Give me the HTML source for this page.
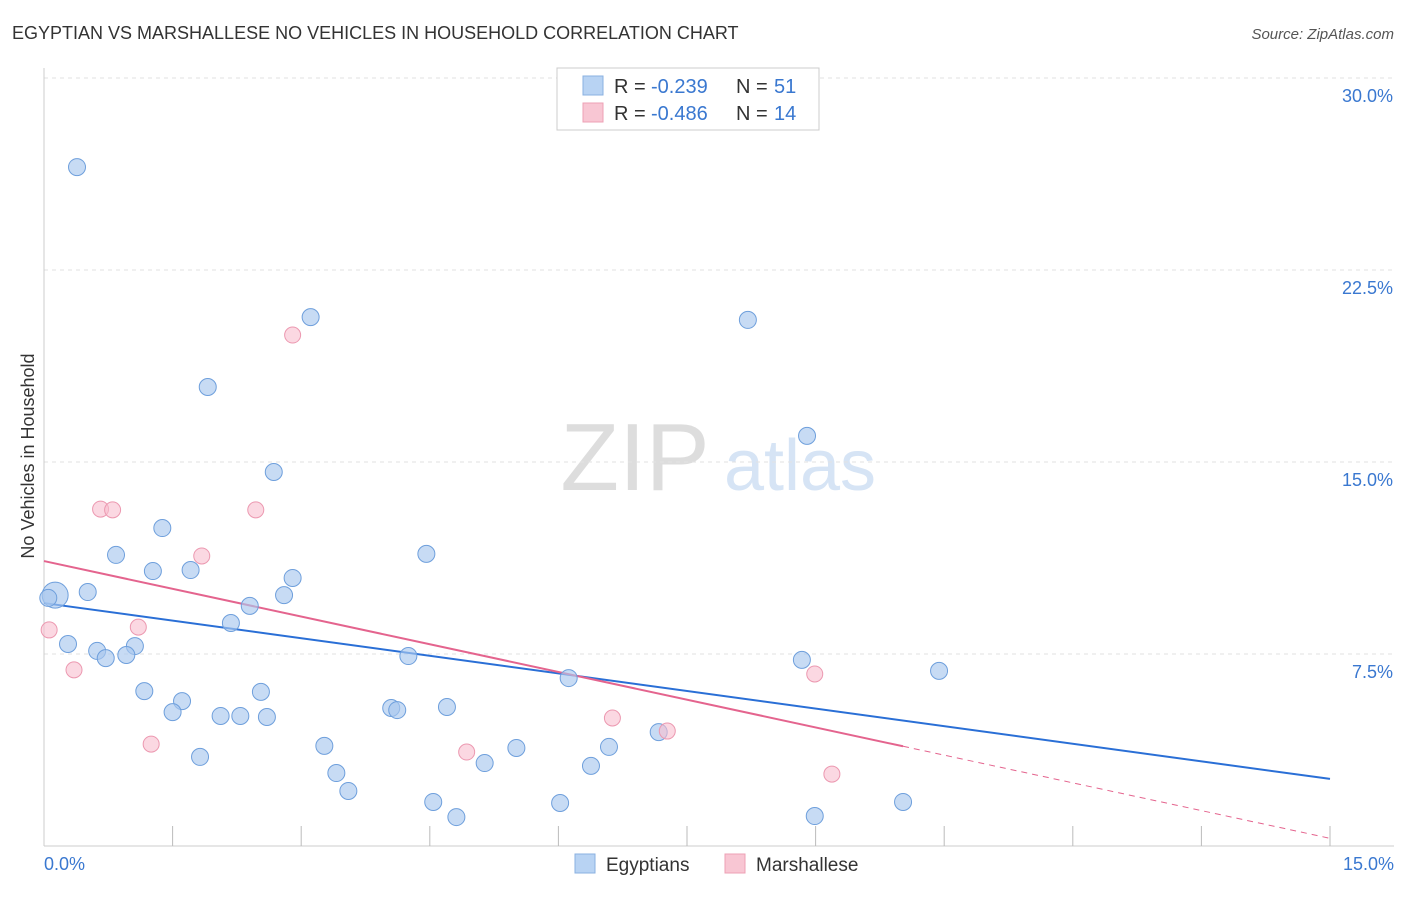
<!DOCTYPE html>
<html><head><meta charset="utf-8"><style>
body{margin:0;background:#fff;font-family:"Liberation Sans",sans-serif;}
svg text{font-family:"Liberation Sans",sans-serif;}
</style></head><body>
<svg width="1406" height="892" id="chart">
<text x="12" y="39" font-size="18" fill="#333">EGYPTIAN VS MARSHALLESE NO VEHICLES IN HOUSEHOLD CORRELATION CHART</text>
<text x="1394" y="39" font-size="15" fill="#555" font-style="italic" text-anchor="end">Source: ZipAtlas.com</text>
<text x="34" y="456" font-size="18" fill="#333" text-anchor="middle" transform="rotate(-90 34 456)">No Vehicles in Household</text>
<g><text x="635" y="490" font-size="96" fill="#ddd" font-family="Liberation Serif" text-anchor="middle">ZIP</text><text x="800" y="490" font-size="72" fill="#d6e4f5" text-anchor="middle">atlas</text></g>
<g id="grid"></g><g id="axes"></g><g id="lines"></g><g id="pts"></g>
<g>
<rect x="557" y="68" width="262" height="62" fill="#fff" stroke="#ccc"/>
<rect x="583" y="76" width="20" height="19" fill="#b8d3f3" stroke="#8ab0e0"/>
<text x="614" y="93" font-size="20" fill="#333">R =</text>
<text x="651" y="93" font-size="20" fill="#3a78d0">-0.239</text>
<text x="736" y="93" font-size="20" fill="#333">N =</text>
<text x="774" y="93" font-size="20" fill="#3a78d0">51</text>
<rect x="583" y="103" width="20" height="19" fill="#f8c6d3" stroke="#eea0b4"/>
<text x="614" y="120" font-size="20" fill="#333">R =</text>
<text x="651" y="120" font-size="20" fill="#3a78d0">-0.486</text>
<text x="736" y="120" font-size="20" fill="#333">N =</text>
<text x="774" y="120" font-size="20" fill="#3a78d0">14</text>
</g>
<g>
<rect x="575" y="854" width="20" height="19" fill="#b8d3f3" stroke="#8ab0e0"/>
<text x="606" y="871" font-size="19" fill="#333">Egyptians</text>
<rect x="725" y="854" width="20" height="19" fill="#f8c6d3" stroke="#eea0b4"/>
<text x="756" y="871" font-size="19" fill="#333">Marshallese</text>
</g>
</svg>
<script>
const blueX=[0.385,3.11,8.21,1.91,8.90,2.68,1.38,0.84,4.46,1.27,1.71,2.90,0.51,2.80,0.13,2.40,2.18,0.28,1.06,0.62,0.72,0.96,4.25,8.84,10.44,6.12,1.17,2.53,1.61,1.50,4.70,4.05,4.12,2.06,2.29,2.60,7.17,3.27,5.51,6.59,1.82,5.14,3.41,6.38,3.55,4.54,6.02,10.02,4.81,8.99,0.05];
const blueY=[26.52,20.66,20.55,17.93,16.02,14.61,12.42,11.37,11.41,10.74,10.78,10.47,9.92,9.80,9.80,9.38,8.71,7.89,7.81,7.62,7.34,7.46,7.42,7.27,6.84,6.56,6.05,6.02,5.66,5.23,5.43,5.39,5.31,5.08,5.08,5.04,4.45,3.91,3.83,3.87,3.48,3.24,2.85,3.13,2.15,1.72,1.68,1.72,1.13,1.17,9.69];
const pinkX=[2.90,0.66,0.80,2.47,1.84,0.06,1.10,0.35,8.99,6.63,7.27,1.25,4.93,9.19];
const pinkY=[19.96,13.16,13.13,13.13,11.33,8.44,8.55,6.88,6.72,5.00,4.49,3.98,3.67,2.81];
const yTicks=[7.5,15,22.5,30];
const yTickLabels=["7.5%","15.0%","22.5%","30.0%"];
const blueTrend=[9.49,2.62];
const pinkTrend=[11.13,0.3];
const pinkSolidEnd=10.02;
const NS="http://www.w3.org/2000/svg";
const X=v=>44+v*(1330-44)/15, Y=v=>846-v*25.6;
function mk(t,a,p){const e=document.createElementNS(NS,t);for(const k in a)e.setAttribute(k,a[k]);document.getElementById(p).appendChild(e);return e;}
yTicks.forEach((t,i)=>{
 let l=mk('line',{x1:44,x2:1394,y1:Y(t),y2:Y(t),stroke:'#e2e2e2','stroke-dasharray':'4,4'},'grid');
 
 
 let tx=mk('text',{x:1393,y:Y(t)+24,'font-size':18,fill:'#3a78d0','text-anchor':'end'},'grid');tx.textContent=yTickLabels[i];
 
 
});
let ax=mk('line',{x1:44,x2:44,y1:68,y2:846,stroke:'#ccc'},'axes');


let bx=mk('line',{x1:44,x2:1394,y1:846,y2:846,stroke:'#ccc'},'axes');


for(let i=1;i<=10;i++){let t=mk('line',{x1:X(i*1.5),x2:X(i*1.5),y1:826,y2:846,stroke:'#bbb'},'axes');
 
 }
let x0=mk('text',{x:44,y:870,'font-size':18,fill:'#3a78d0'},'axes');x0.textContent='0.0%';


let x1=mk('text',{x:1394,y:870,'font-size':18,fill:'#3a78d0','text-anchor':'end'},'axes');x1.textContent='15.0%';


const pAt=x=>pinkTrend[0]+(pinkTrend[1]-pinkTrend[0])*x/15;
let bl=mk('line',{x1:X(0),y1:Y(blueTrend[0]),x2:X(15),y2:Y(blueTrend[1]),stroke:'#2a6fd6','stroke-width':2},'lines');


let pl=mk('line',{x1:X(0),y1:Y(pAt(0)),x2:X(pinkSolidEnd),y2:Y(pAt(pinkSolidEnd)),stroke:'#e4648e','stroke-width':2},'lines');


let pd=mk('line',{x1:X(pinkSolidEnd),y1:Y(pAt(pinkSolidEnd)),x2:X(15),y2:Y(pAt(15)),stroke:'#e4648e','stroke-width':1,'stroke-dasharray':'6,5'},'lines');


blueX.forEach((x,i)=>{let c=mk('circle',{cx:X(x),cy:Y(blueY[i]),r:i==14?13:8.5,fill:'rgba(169,200,238,0.65)',stroke:'#6e9fdc','stroke-width':1},'pts');
 
 });
pinkX.forEach((x,i)=>{let c=mk('circle',{cx:X(x),cy:Y(pinkY[i]),r:8,fill:'rgba(248,190,206,0.6)',stroke:'#ec98b0','stroke-width':1},'pts');
 
 });
</script>
</body></html>
